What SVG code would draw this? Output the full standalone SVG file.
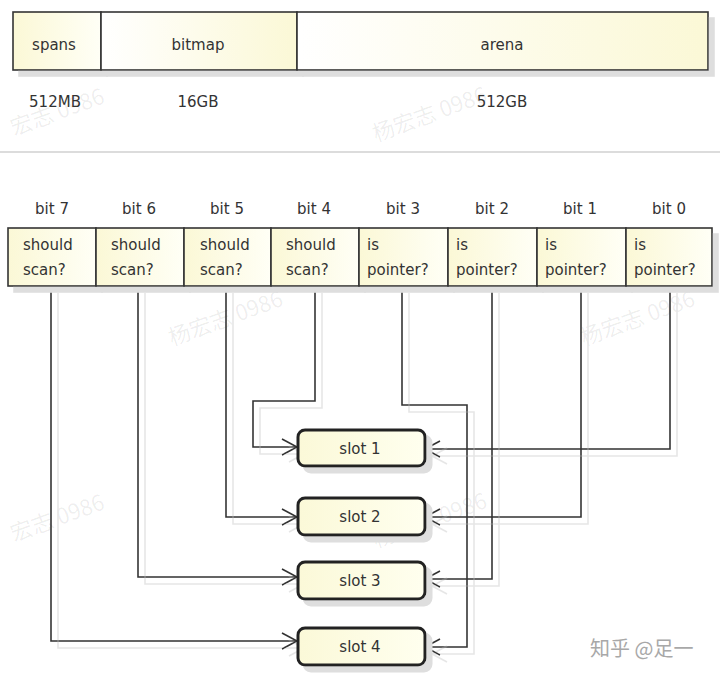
<svg xmlns="http://www.w3.org/2000/svg" width="720" height="675" viewBox="0 0 720 675">
<style>
.t{font-family:"DejaVu Sans",Verdana,sans-serif;font-size:15px;fill:#333}
.c{text-anchor:middle}
.cell{stroke:#333;stroke-width:1.6}
.slot{fill:url(#gs);stroke:#222;stroke-width:3}
.wire{fill:none;stroke:#333;stroke-width:1.6}
.wm{font-family:"Noto Sans CJK SC","DejaVu Sans",sans-serif;font-size:22px;fill:#000;fill-opacity:0.07}
</style>
<defs>
<linearGradient id="gy" x1="0" y1="0" x2="1" y2="0">
<stop offset="0" stop-color="#fbf8d6"/><stop offset="1" stop-color="#fffff6"/>
</linearGradient>
<linearGradient id="gw" x1="0" y1="0" x2="1" y2="0">
<stop offset="0" stop-color="#ffffff"/><stop offset="1" stop-color="#fbf8d6"/>
</linearGradient>
<linearGradient id="gs" x1="0" y1="0" x2="1" y2="0">
<stop offset="0" stop-color="#fbf9d8"/><stop offset="1" stop-color="#ffffef"/>
</linearGradient>
<filter id="sh" x="-5%" y="-5%" width="115%" height="130%">
<feFlood flood-color="#dedede" result="f"/>
<feComposite in="f" in2="SourceAlpha" operator="in" result="s"/>
<feOffset in="s" dx="6" dy="6" result="o"/>
<feMerge><feMergeNode in="o"/><feMergeNode in="SourceGraphic"/></feMerge>
</filter>
<filter id="shl" x="-5%" y="-5%" width="115%" height="115%">
<feFlood flood-color="#e6e6e6" result="f"/>
<feComposite in="f" in2="SourceAlpha" operator="in" result="s"/>
<feOffset in="s" dx="7" dy="7" result="o"/>
<feMerge><feMergeNode in="o"/><feMergeNode in="SourceGraphic"/></feMerge>
</filter>
<marker id="arr" markerUnits="userSpaceOnUse" markerWidth="20" markerHeight="20" refX="16" refY="9" orient="auto">
<path d="M1,1 L16,9 L1,17" fill="none" stroke="#333" stroke-width="1.6"/>
</marker>
</defs>
<rect width="720" height="675" fill="#fff"/>

<!-- watermarks -->
<g class="wm">
<text transform="translate(14,136) rotate(-20)">宏志 0986</text>
<text transform="translate(376,142) rotate(-20)">杨宏志 0986</text>
<text transform="translate(172,346) rotate(-20)">杨宏志 0986</text>
<text transform="translate(584,346) rotate(-20)">杨宏志 0986</text>
<text transform="translate(14,542) rotate(-20)">宏志 0986</text>
<text transform="translate(376,548) rotate(-20)">杨宏志 0986</text>
</g>

<!-- top memory layout -->
<g id="layout" filter="url(#sh)">
<g id="spans"><rect class="cell" x="13" y="12" width="88" height="58" fill="url(#gy)"/></g>
<g id="bitmap"><rect class="cell" x="101" y="12" width="196" height="58" fill="url(#gw)"/></g>
<g id="arena"><rect class="cell" x="297" y="12" width="411" height="58" fill="url(#gw)"/></g>
</g>
<text class="t c" x="54" y="50">spans</text>
<text class="t c" x="198" y="50">bitmap</text>
<text class="t c" x="502" y="50">arena</text>
<text class="t c" x="55" y="107">512MB</text>
<text class="t c" x="198" y="107">16GB</text>
<text class="t c" x="502" y="107">512GB</text>

<line x1="0" y1="152" x2="720" y2="152" stroke="#dcdcdc" stroke-width="2"/>

<!-- bit labels -->
<g class="t c">
<text x="52" y="214">bit 7</text>
<text x="139" y="214">bit 6</text>
<text x="227" y="214">bit 5</text>
<text x="314" y="214">bit 4</text>
<text x="403" y="214">bit 3</text>
<text x="492" y="214">bit 2</text>
<text x="580" y="214">bit 1</text>
<text x="669" y="214">bit 0</text>
</g>

<!-- connectors -->
<g id="connectors" filter="url(#shl)">
<path class="wire" marker-end="url(#arr)" d="M51,286 V641 H297"/>
<path class="wire" marker-end="url(#arr)" d="M138,286 V577 H297"/>
<path class="wire" marker-end="url(#arr)" d="M226,286 V517 H297"/>
<path class="wire" marker-end="url(#arr)" d="M315,286 V401 H253 V447 H297"/>
<path class="wire" marker-end="url(#arr)" d="M402,286 V405 H467 V647 H425"/>
<path class="wire" marker-end="url(#arr)" d="M492,286 V579 H425"/>
<path class="wire" marker-end="url(#arr)" d="M581,286 V517 H425"/>
<path class="wire" marker-end="url(#arr)" d="M670,286 V449 H425"/>
</g>

<!-- bit cells -->
<g filter="url(#sh)">
<g id="bit7"><rect class="cell" x="8" y="228" width="88" height="58" fill="url(#gy)"/></g>
<g id="bit6"><rect class="cell" x="96" y="228" width="88" height="58" fill="url(#gy)"/></g>
<g id="bit5"><rect class="cell" x="184" y="228" width="87" height="58" fill="url(#gy)"/></g>
<g id="bit4"><rect class="cell" x="271" y="228" width="88" height="58" fill="url(#gy)"/></g>
<g id="bit3"><rect class="cell" x="359" y="228" width="89" height="58" fill="url(#gy)"/></g>
<g id="bit2"><rect class="cell" x="448" y="228" width="89" height="58" fill="url(#gy)"/></g>
<g id="bit1"><rect class="cell" x="537" y="228" width="89" height="58" fill="url(#gy)"/></g>
<g id="bit0"><rect class="cell" x="626" y="228" width="86" height="58" fill="url(#gy)"/></g>
</g>
<g class="t">
<text x="23" y="250">should</text><text x="23" y="275">scan?</text>
<text x="111" y="250">should</text><text x="111" y="275">scan?</text>
<text x="200" y="250">should</text><text x="200" y="275">scan?</text>
<text x="286" y="250">should</text><text x="286" y="275">scan?</text>
<text x="367" y="250">is</text><text x="367" y="275">pointer?</text>
<text x="456" y="250">is</text><text x="456" y="275">pointer?</text>
<text x="545" y="250">is</text><text x="545" y="275">pointer?</text>
<text x="634" y="250">is</text><text x="634" y="275">pointer?</text>
</g>

<!-- slots -->
<g id="slot1" filter="url(#sh)"><rect class="slot" x="298" y="430" width="127" height="36" rx="7"/></g>
<g id="slot2" filter="url(#sh)"><rect class="slot" x="298" y="498" width="127" height="37" rx="7"/></g>
<g id="slot3" filter="url(#sh)"><rect class="slot" x="298" y="562" width="127" height="37" rx="7"/></g>
<g id="slot4" filter="url(#sh)"><rect class="slot" x="298" y="628" width="127" height="37" rx="7"/></g>
<g class="t c">
<text x="360" y="454">slot 1</text>
<text x="360" y="522">slot 2</text>
<text x="360" y="586">slot 3</text>
<text x="360" y="652">slot 4</text>
</g>

<text x="590" y="656" font-family="'Noto Sans CJK SC','DejaVu Sans',sans-serif" font-size="20" fill="#a8a8a8">知乎 @足一</text>
</svg>
